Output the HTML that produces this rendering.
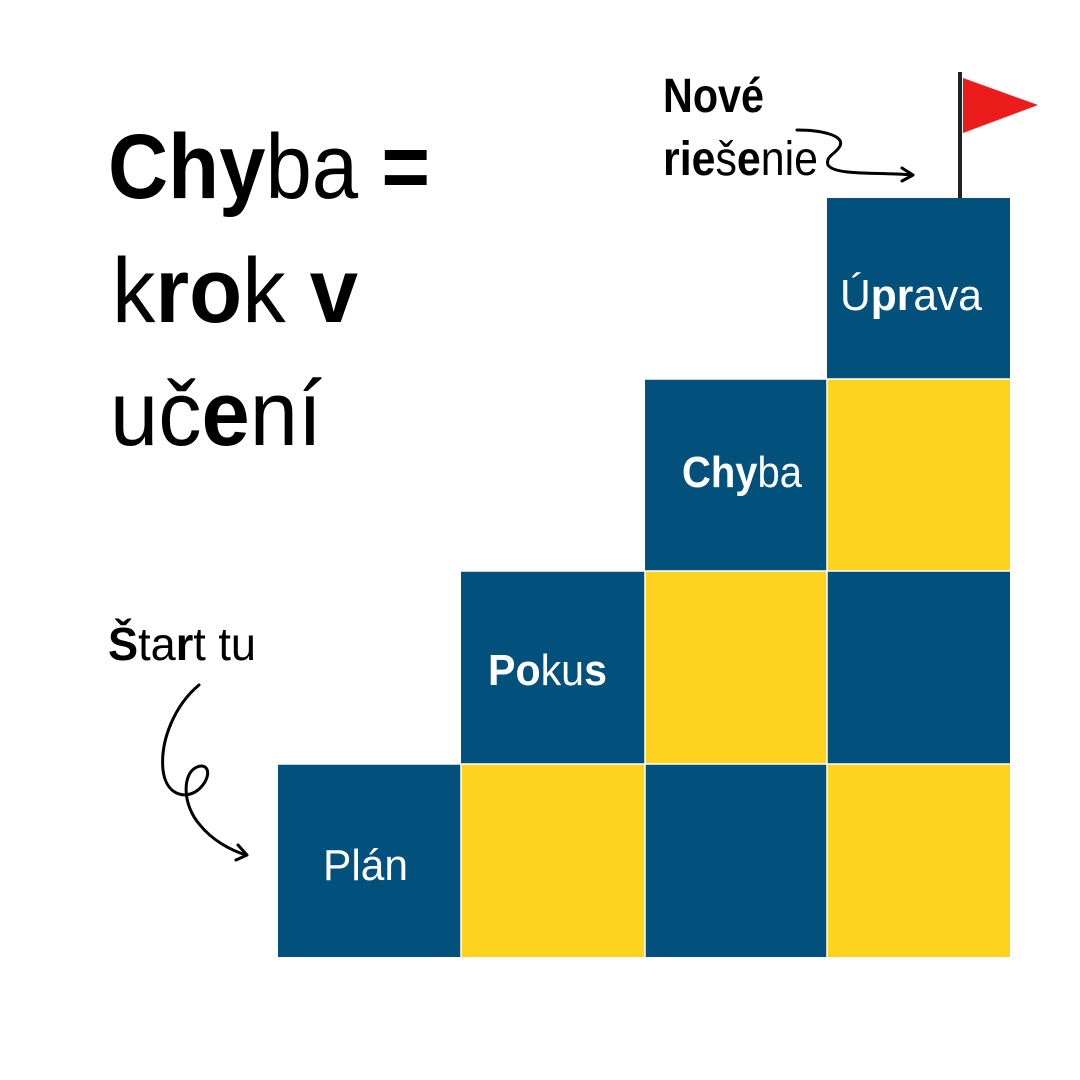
<!DOCTYPE html>
<html><head><meta charset="utf-8"><style>
html,body{margin:0;padding:0;background:#fff}
svg{display:block}
text{font-family:"Liberation Sans",sans-serif}
</style></head><body>
<svg width="1080" height="1080" viewBox="0 0 1080 1080" xmlns="http://www.w3.org/2000/svg">
<rect width="1080" height="1080" fill="#fff"/>
<g>
<rect x="827" y="198" width="183" height="181" fill="#02507c"/>
<rect x="645" y="379" width="182" height="192" fill="#02507c"/>
<rect x="827" y="379" width="183" height="192" fill="#fdd31f"/>
<rect x="461" y="571" width="184" height="193" fill="#02507c"/>
<rect x="645" y="571" width="182" height="193" fill="#fdd31f"/>
<rect x="827" y="571" width="183" height="193" fill="#02507c"/>
<rect x="278" y="764" width="183" height="193" fill="#02507c"/>
<rect x="461" y="764" width="184" height="193" fill="#fdd31f"/>
<rect x="645" y="764" width="182" height="193" fill="#02507c"/>
<rect x="827" y="764" width="183" height="193" fill="#fdd31f"/>
<g stroke="#fff" stroke-width="1.5">
<line x1="461" y1="764" x2="461" y2="957"/><line x1="645" y1="571" x2="645" y2="957"/><line x1="827" y1="379" x2="827" y2="957"/>
<line x1="278" y1="764" x2="1010" y2="764"/><line x1="461" y1="571" x2="1010" y2="571"/><line x1="645" y1="379" x2="1010" y2="379"/>
</g>
</g>
<g fill="#fff" font-size="44">
<text x="840" y="310" textLength="142" lengthAdjust="spacingAndGlyphs">Ú<tspan font-weight="bold">pr</tspan>ava</text>
<text x="682" y="487" textLength="120" lengthAdjust="spacingAndGlyphs" font-weight="bold">Chy<tspan font-weight="normal">ba</tspan></text>
<text x="488" y="685" textLength="119" lengthAdjust="spacingAndGlyphs" font-weight="bold">Po<tspan font-weight="normal">ku</tspan>s</text>
<text x="323" y="880" textLength="85" lengthAdjust="spacingAndGlyphs">Plán</text>
</g>
<g fill="#000">
<text x="108" y="198" font-size="92" textLength="322" lengthAdjust="spacingAndGlyphs"><tspan font-weight="bold">Chy</tspan>ba <tspan font-weight="bold">=</tspan></text>
<text x="112" y="322" font-size="92" textLength="246" lengthAdjust="spacingAndGlyphs">k<tspan font-weight="bold">ro</tspan>k <tspan font-weight="bold">v</tspan></text>
<text x="110" y="445" font-size="92" textLength="212" lengthAdjust="spacingAndGlyphs">uč<tspan font-weight="bold">e</tspan>ní</text>
<text x="108" y="660" font-size="46" textLength="148" lengthAdjust="spacingAndGlyphs"><tspan font-weight="bold">Š</tspan>ta<tspan font-weight="bold">r</tspan>t tu</text>
<text x="663" y="112" font-size="48" font-weight="bold" textLength="101" lengthAdjust="spacingAndGlyphs">Nové</text>
<text x="663" y="175" font-size="48" textLength="155" lengthAdjust="spacingAndGlyphs"><tspan font-weight="bold">rie</tspan>š<tspan font-weight="bold">e</tspan>nie</text>
</g>
<line x1="960" y1="72" x2="960" y2="198" stroke="#222" stroke-width="4"/>
<polygon points="963,78 1038,105 963,133" fill="#ec1c1c"/>
<g fill="none" stroke="#000" stroke-width="3" stroke-linecap="round" stroke-linejoin="round">
<path d="M797,130 C820,130 845,135 840,146 C836,154 825,156 828,165 C835,176 880,172 912,175"/>
<path d="M902,168 L913,175 L902,181"/>
<path d="M199,685 C175,705 160,740 163,770 C166,795 185,800 198,790 C212,778 210,762 197,767 C182,773 182,805 200,825 C212,840 230,850 246,855"/>
<path d="M238,845 L247,855 L236,860"/>
</g>
</svg>
</body></html>
